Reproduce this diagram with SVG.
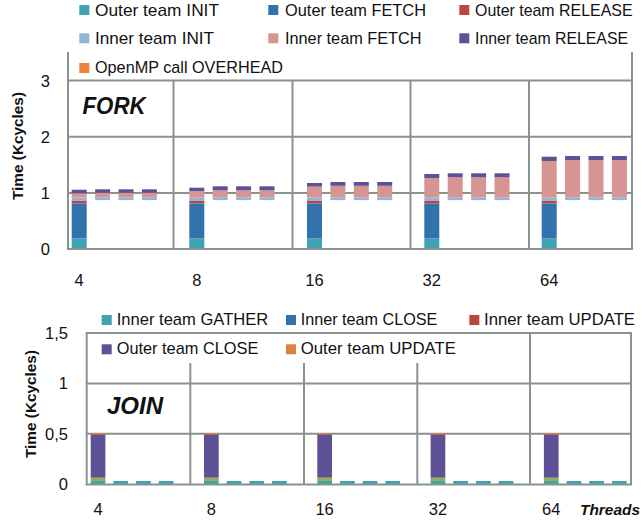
<svg xmlns="http://www.w3.org/2000/svg" width="642" height="524" viewBox="0 0 642 524">
  <style>
    text { font-family: "Liberation Sans", Arial, sans-serif; fill: #111; }
    .lg { font-size: 17px; }
    .tick { font-size: 16.5px; }
    .ylab { font-size: 15.5px; font-weight: bold; }
    .title { font-size: 24px; font-weight: bold; font-style: italic; }
    .grid { stroke: #88938f; stroke-width: 2; fill: none; }
    .oInit { fill: #3da4b3; }
    .oFetch { fill: #3272ad; }
    .oRel { fill: #bd4442; }
    .iInit { fill: #93b4d8; }
    .iFetch { fill: #d69593; }
    .iRel { fill: #5e5195; }
    .ovh { fill: #ec8239; }
    .gath { fill: #3da4b3; }
    .iClose { fill: #3272ad; }
    .iUpd { fill: #bd4442; }
    .oClose { fill: #5e5195; }
    .oUpd { fill: #e0803d; }
    .misc { fill: #8fb24f; }
  </style>

  <!-- ===================== FORK chart ===================== -->
  <g id="fork-legend">
    <rect class="oInit" x="79.3" y="5" width="10" height="10"/>
    <text class="lg" x="95" y="15.7" textLength="124" lengthAdjust="spacingAndGlyphs">Outer team INIT</text>
    <rect class="oFetch" x="268.3" y="5" width="10" height="10"/>
    <text class="lg" x="285" y="15.7" textLength="141" lengthAdjust="spacingAndGlyphs">Outer team FETCH</text>
    <rect class="oRel" x="459.3" y="5" width="10" height="10"/>
    <text class="lg" x="475" y="15.7" textLength="157.5" lengthAdjust="spacingAndGlyphs">Outer team RELEASE</text>

    <rect class="iInit" x="79.3" y="33.3" width="10" height="10"/>
    <text class="lg" x="95" y="44.3" textLength="119" lengthAdjust="spacingAndGlyphs">Inner team INIT</text>
    <rect class="iFetch" x="268.3" y="33.3" width="10" height="10"/>
    <text class="lg" x="285" y="44.3" textLength="136.5" lengthAdjust="spacingAndGlyphs">Inner team FETCH</text>
    <rect class="iRel" x="459.3" y="33.3" width="10" height="10"/>
    <text class="lg" x="475" y="44.3" textLength="153" lengthAdjust="spacingAndGlyphs">Inner team RELEASE</text>

    <rect class="ovh" x="79.3" y="63" width="10" height="10"/>
    <text class="lg" x="95" y="72.7" textLength="188" lengthAdjust="spacingAndGlyphs">OpenMP call OVERHEAD</text>
  </g>

  <g id="fork-grid">
    <line class="grid" x1="68" y1="80.5" x2="632" y2="80.5"/>
    <line class="grid" x1="68" y1="136.7" x2="632" y2="136.7"/>
    <line class="grid" x1="68" y1="193" x2="632" y2="193"/>
    <line class="grid" x1="68" y1="52" x2="68" y2="249.8"/>
    <line class="grid" x1="632" y1="52" x2="632" y2="249.8"/>
    <line class="grid" x1="173.5" y1="80.5" x2="173.5" y2="249"/>
    <line class="grid" x1="292.5" y1="80.5" x2="292.5" y2="249"/>
    <line class="grid" x1="410.5" y1="80.5" x2="410.5" y2="249"/>
    <line class="grid" x1="529" y1="80.5" x2="529" y2="249"/>
  </g>

  <g id="fork-bars">
    <!-- 4 threads -->
    <g id="fork-4">
      <rect class="oInit" x="71.7" y="238.4" width="15" height="10.4"/>
      <rect class="oFetch" x="71.7" y="203.4" width="15" height="35"/>
      <rect class="oRel" x="71.7" y="200.9" width="15" height="2.5"/>
      <rect class="iInit" x="71.7" y="197.6" width="15" height="3.3"/>
      <rect class="iFetch" x="71.7" y="193.3" width="15" height="4.3"/>
      <rect class="iRel" x="71.7" y="189.7" width="15" height="3.6"/>
      <g id="fork-4-inner">
        <rect class="iInit" x="95.1" y="197.4" width="15" height="2.7"/>
        <rect class="iFetch" x="95.1" y="192.8" width="15" height="4.6"/>
        <rect class="iRel" x="95.1" y="189.3" width="15" height="3.5"/>
        <rect class="iInit" x="118.5" y="197.4" width="15" height="2.7"/>
        <rect class="iFetch" x="118.5" y="192.8" width="15" height="4.6"/>
        <rect class="iRel" x="118.5" y="189.3" width="15" height="3.5"/>
        <rect class="iInit" x="141.9" y="197.4" width="15" height="2.7"/>
        <rect class="iFetch" x="141.9" y="192.8" width="15" height="4.6"/>
        <rect class="iRel" x="141.9" y="189.3" width="15" height="3.5"/>
      </g>
    </g>
    <!-- 8 threads -->
    <g id="fork-8">
      <rect class="oInit" x="189.3" y="238.4" width="15" height="10.4"/>
      <rect class="oFetch" x="189.3" y="203.4" width="15" height="35"/>
      <rect class="oRel" x="189.3" y="200.9" width="15" height="2.5"/>
      <rect class="iInit" x="189.3" y="197.6" width="15" height="3.3"/>
      <rect class="iFetch" x="189.3" y="191.2" width="15" height="6.4"/>
      <rect class="iRel" x="189.3" y="187.7" width="15" height="3.5"/>
      <g id="fork-8-inner">
        <rect class="iInit" x="212.7" y="197.4" width="15" height="2.7"/>
        <rect class="iFetch" x="212.7" y="190.3" width="15" height="7.1"/>
        <rect class="iRel" x="212.7" y="186.3" width="15" height="4"/>
        <rect class="iInit" x="236.1" y="197.4" width="15" height="2.7"/>
        <rect class="iFetch" x="236.1" y="190.3" width="15" height="7.1"/>
        <rect class="iRel" x="236.1" y="186.3" width="15" height="4"/>
        <rect class="iInit" x="259.5" y="197.4" width="15" height="2.7"/>
        <rect class="iFetch" x="259.5" y="190.3" width="15" height="7.1"/>
        <rect class="iRel" x="259.5" y="186.3" width="15" height="4"/>
      </g>
    </g>
    <!-- 16 threads -->
    <g id="fork-16">
      <rect class="oInit" x="307" y="238.4" width="15" height="10.4"/>
      <rect class="oFetch" x="307" y="203.4" width="15" height="35"/>
      <rect class="oRel" x="307" y="200.9" width="15" height="2.5"/>
      <rect class="iInit" x="307" y="197.6" width="15" height="3.3"/>
      <rect class="iFetch" x="307" y="186.6" width="15" height="11"/>
      <rect class="iRel" x="307" y="183" width="15" height="3.6"/>
      <g id="fork-16-inner">
        <rect class="iInit" x="330.4" y="197.4" width="15" height="2.7"/>
        <rect class="iFetch" x="330.4" y="185.8" width="15" height="11.6"/>
        <rect class="iRel" x="330.4" y="182" width="15" height="3.8"/>
        <rect class="iInit" x="353.8" y="197.4" width="15" height="2.7"/>
        <rect class="iFetch" x="353.8" y="185.8" width="15" height="11.6"/>
        <rect class="iRel" x="353.8" y="182" width="15" height="3.8"/>
        <rect class="iInit" x="377.2" y="197.4" width="15" height="2.7"/>
        <rect class="iFetch" x="377.2" y="185.8" width="15" height="11.6"/>
        <rect class="iRel" x="377.2" y="182" width="15" height="3.8"/>
      </g>
    </g>
    <!-- 32 threads -->
    <g id="fork-32">
      <rect class="oInit" x="424.3" y="238.4" width="15" height="10.4"/>
      <rect class="oFetch" x="424.3" y="203.4" width="15" height="35"/>
      <rect class="oRel" x="424.3" y="200.9" width="15" height="2.5"/>
      <rect class="iInit" x="424.3" y="197.6" width="15" height="3.3"/>
      <rect class="iFetch" x="424.3" y="178" width="15" height="19.6"/>
      <rect class="iRel" x="424.3" y="174" width="15" height="4"/>
      <g id="fork-32-inner">
        <rect class="iInit" x="447.7" y="197.4" width="15" height="2.7"/>
        <rect class="iFetch" x="447.7" y="177.3" width="15" height="20.1"/>
        <rect class="iRel" x="447.7" y="173.3" width="15" height="4"/>
        <rect class="iInit" x="471.1" y="197.4" width="15" height="2.7"/>
        <rect class="iFetch" x="471.1" y="177.3" width="15" height="20.1"/>
        <rect class="iRel" x="471.1" y="173.3" width="15" height="4"/>
        <rect class="iInit" x="494.5" y="197.4" width="15" height="2.7"/>
        <rect class="iFetch" x="494.5" y="177.3" width="15" height="20.1"/>
        <rect class="iRel" x="494.5" y="173.3" width="15" height="4"/>
      </g>
    </g>
    <!-- 64 threads -->
    <g id="fork-64">
      <rect class="oInit" x="541.7" y="238.4" width="15" height="10.4"/>
      <rect class="oFetch" x="541.7" y="203.4" width="15" height="35"/>
      <rect class="oRel" x="541.7" y="200.9" width="15" height="2.5"/>
      <rect class="iInit" x="541.7" y="197.6" width="15" height="3.3"/>
      <rect class="iFetch" x="541.7" y="161" width="15" height="36.6"/>
      <rect class="iRel" x="541.7" y="156.7" width="15" height="4.3"/>
      <g id="fork-64-inner">
        <rect class="iInit" x="565.1" y="197.4" width="15" height="2.7"/>
        <rect class="iFetch" x="565.1" y="160" width="15" height="37.4"/>
        <rect class="iRel" x="565.1" y="156" width="15" height="4"/>
        <rect class="iInit" x="588.5" y="197.4" width="15" height="2.7"/>
        <rect class="iFetch" x="588.5" y="160" width="15" height="37.4"/>
        <rect class="iRel" x="588.5" y="156" width="15" height="4"/>
        <rect class="iInit" x="611.9" y="197.4" width="15" height="2.7"/>
        <rect class="iFetch" x="611.9" y="160" width="15" height="37.4"/>
        <rect class="iRel" x="611.9" y="156" width="15" height="4"/>
      </g>
    </g>
  </g>

  <g id="fork-axes">
    <line class="grid" x1="67" y1="248.9" x2="633" y2="248.9"/>
    <text class="tick" x="50" y="86.5" text-anchor="end">3</text>
    <text class="tick" x="50" y="142.7" text-anchor="end">2</text>
    <text class="tick" x="50" y="199" text-anchor="end">1</text>
    <text class="tick" x="50" y="255.2" text-anchor="end">0</text>
    <text class="tick" x="79.2" y="285.5" text-anchor="middle">4</text>
    <text class="tick" x="196.8" y="285.5" text-anchor="middle">8</text>
    <text class="tick" x="314.5" y="285.5" text-anchor="middle">16</text>
    <text class="tick" x="431.8" y="285.5" text-anchor="middle">32</text>
    <text class="tick" x="549.2" y="285.5" text-anchor="middle">64</text>
    <text class="ylab" transform="translate(23,146) rotate(-90)" text-anchor="middle" textLength="108" lengthAdjust="spacingAndGlyphs">Time (Kcycles)</text>
    <text class="title" x="82.5" y="114" textLength="63" lengthAdjust="spacingAndGlyphs">FORK</text>
  </g>

  <!-- ===================== JOIN chart ===================== -->
  <g id="join-legend">
    <rect class="gath" x="101.7" y="315" width="10" height="10"/>
    <text class="lg" x="116.7" y="325.3" textLength="151.6" lengthAdjust="spacingAndGlyphs">Inner team GATHER</text>
    <rect class="iClose" x="286" y="315" width="10" height="10"/>
    <text class="lg" x="300.7" y="325.3" textLength="136.6" lengthAdjust="spacingAndGlyphs">Inner team CLOSE</text>
    <rect class="iUpd" x="469.3" y="315" width="10" height="10"/>
    <text class="lg" x="484" y="325.3" textLength="151" lengthAdjust="spacingAndGlyphs">Inner team UPDATE</text>

    <rect class="oClose" x="101.7" y="344.3" width="10" height="10"/>
    <text class="lg" x="116.7" y="354.3" textLength="141.6" lengthAdjust="spacingAndGlyphs">Outer team CLOSE</text>
    <rect class="oUpd" x="286" y="344.3" width="10" height="10"/>
    <text class="lg" x="300.7" y="354.3" textLength="155.3" lengthAdjust="spacingAndGlyphs">Outer team UPDATE</text>
  </g>

  <g id="join-grid">
    <line class="grid" x1="86.7" y1="333" x2="631" y2="333"/>
    <line class="grid" x1="86.7" y1="383.4" x2="631" y2="383.4"/>
    <line class="grid" x1="86.7" y1="433.8" x2="631" y2="433.8"/>
    <line class="grid" x1="86.7" y1="332" x2="86.7" y2="485"/>
    <line class="grid" x1="631" y1="332" x2="631" y2="485"/>
    <line class="grid" x1="190.3" y1="363" x2="190.3" y2="484"/>
    <line class="grid" x1="304" y1="363" x2="304" y2="484"/>
    <line class="grid" x1="417.3" y1="363" x2="417.3" y2="484"/>
    <line class="grid" x1="530" y1="333" x2="530" y2="484"/>
  </g>

  <g id="join-bars">
    <g id="join-4">
      <rect class="gath" x="90.7" y="481" width="14.7" height="3.2"/>
      <rect class="misc" x="90.7" y="477.7" width="14.7" height="3.3"/>
      <rect class="oClose" x="90.7" y="434.3" width="14.7" height="43.4"/>
      <rect class="oUpd" x="90.7" y="433" width="14.7" height="1.3"/>
      <rect class="gath" x="113.4" y="481" width="14.7" height="3.2"/>
      <rect class="gath" x="136.1" y="481" width="14.7" height="3.2"/>
      <rect class="gath" x="158.8" y="481" width="14.7" height="3.2"/>
    </g>
    <g id="join-8">
      <rect class="gath" x="204" y="481" width="14.7" height="3.2"/>
      <rect class="misc" x="204" y="477.7" width="14.7" height="3.3"/>
      <rect class="oClose" x="204" y="434.3" width="14.7" height="43.4"/>
      <rect class="oUpd" x="204" y="433" width="14.7" height="1.3"/>
      <rect class="gath" x="226.7" y="481" width="14.7" height="3.2"/>
      <rect class="gath" x="249.4" y="481" width="14.7" height="3.2"/>
      <rect class="gath" x="272.1" y="481" width="14.7" height="3.2"/>
    </g>
    <g id="join-16">
      <rect class="gath" x="317.3" y="481" width="14.7" height="3.2"/>
      <rect class="misc" x="317.3" y="477.7" width="14.7" height="3.3"/>
      <rect class="oClose" x="317.3" y="434.3" width="14.7" height="43.4"/>
      <rect class="oUpd" x="317.3" y="433" width="14.7" height="1.3"/>
      <rect class="gath" x="340" y="481" width="14.7" height="3.2"/>
      <rect class="gath" x="362.7" y="481" width="14.7" height="3.2"/>
      <rect class="gath" x="385.4" y="481" width="14.7" height="3.2"/>
    </g>
    <g id="join-32">
      <rect class="gath" x="430.6" y="481" width="14.7" height="3.2"/>
      <rect class="misc" x="430.6" y="477.7" width="14.7" height="3.3"/>
      <rect class="oClose" x="430.6" y="434.3" width="14.7" height="43.4"/>
      <rect class="oUpd" x="430.6" y="433" width="14.7" height="1.3"/>
      <rect class="gath" x="453.3" y="481" width="14.7" height="3.2"/>
      <rect class="gath" x="476" y="481" width="14.7" height="3.2"/>
      <rect class="gath" x="498.7" y="481" width="14.7" height="3.2"/>
    </g>
    <g id="join-64">
      <rect class="gath" x="543.9" y="481" width="14.7" height="3.2"/>
      <rect class="misc" x="543.9" y="477.7" width="14.7" height="3.3"/>
      <rect class="oClose" x="543.9" y="434.3" width="14.7" height="43.4"/>
      <rect class="oUpd" x="543.9" y="433" width="14.7" height="1.3"/>
      <rect class="gath" x="566.6" y="481" width="14.7" height="3.2"/>
      <rect class="gath" x="589.3" y="481" width="14.7" height="3.2"/>
      <rect class="gath" x="612" y="481" width="14.7" height="3.2"/>
    </g>
  </g>

  <g id="join-axes">
    <line class="grid" x1="85.7" y1="484.5" x2="632" y2="484.5"/>
    <text class="tick" x="68" y="339" text-anchor="end">1,5</text>
    <text class="tick" x="68" y="389.4" text-anchor="end">1</text>
    <text class="tick" x="68" y="439.8" text-anchor="end">0,5</text>
    <text class="tick" x="68" y="490.2" text-anchor="end">0</text>
    <text class="tick" x="98" y="515" text-anchor="middle">4</text>
    <text class="tick" x="211.3" y="515" text-anchor="middle">8</text>
    <text class="tick" x="324.6" y="515" text-anchor="middle">16</text>
    <text class="tick" x="438" y="515" text-anchor="middle">32</text>
    <text class="tick" x="551.2" y="515" text-anchor="middle">64</text>
    <text class="title" x="580" y="515" style="font-size:15.5px" textLength="60" lengthAdjust="spacingAndGlyphs">Threads</text>
    <text class="ylab" transform="translate(36,404) rotate(-90)" text-anchor="middle" textLength="108" lengthAdjust="spacingAndGlyphs">Time (Kcycles)</text>
    <text class="title" x="107" y="414" textLength="56" lengthAdjust="spacingAndGlyphs">JOIN</text>
  </g>
</svg>
